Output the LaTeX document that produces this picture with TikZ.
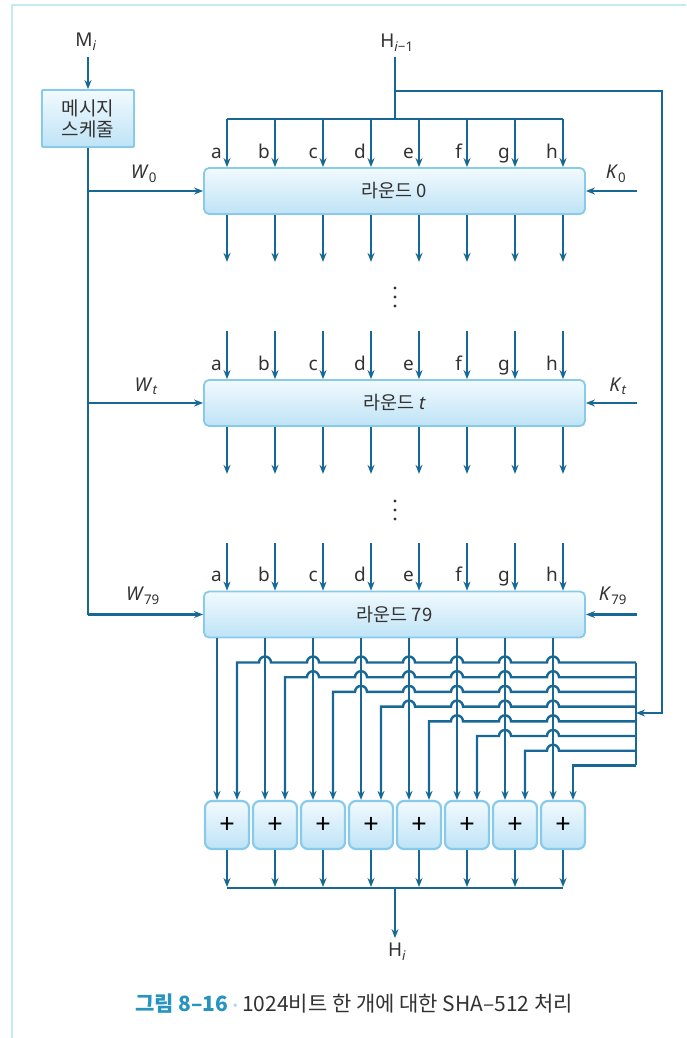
\documentclass[tikz,border=0pt]{standalone}
\usepackage{fontspec}
\setmainfont{Noto Sans}
\newfontfamily\kr{Noto Sans CJK KR}
\usepackage{tikz}
\usetikzlibrary{arrows.meta,positioning,calc}

\definecolor{wire}{RGB}{24,104,150}
\definecolor{boxline}{RGB}{135,202,234}
\definecolor{boxtop}{RGB}{242,250,254}
\definecolor{boxbot}{RGB}{190,227,246}
\definecolor{framec}{RGB}{196,234,242}
\definecolor{captc}{RGB}{38,148,190}
\definecolor{dotc}{RGB}{170,215,232}
\definecolor{txt}{RGB}{50,50,50}

\newcommand\fs[1]{\fontsize{#1}{#1}\selectfont}

\begin{document}
\begin{tikzpicture}[
  x=1pt,y=-1pt,
  >={Stealth[length=9pt,width=7pt]},
  wire/.style={draw=wire,line width=2.4pt},
  arr/.style={wire,->},
  lbl/.style={font=\fs{19},text=txt,inner sep=1pt},
  letter/.style={font=\fs{19},text=txt,inner sep=0pt,anchor=base east},
  roundbox/.style={draw=boxline,line width=1.8pt,rounded corners=5pt,top color=boxtop,bottom color=boxbot,
    minimum width=381pt,minimum height=46pt,text=txt,font=\kr\fs{18.5}},
  sched/.style={draw=boxline,line width=1.8pt,rounded corners=1pt,top color=boxtop,bottom color=boxbot,
    minimum width=92pt,minimum height=57pt,align=center,text=txt,font=\kr\fs{19}},
  adder/.style={draw=boxline,line width=2.2pt,rounded corners=7pt,top color=boxtop,bottom color=boxbot,
    minimum width=44pt,minimum height=48pt,inner sep=0pt,font=\bfseries\fs{27}},
]
\useasboundingbox (0,0) rectangle (686,1038);
\draw[framec,line width=2pt] (12,1038) -- (12,5) -- (686,5);

% message schedule
\node[lbl] (mi) at (86,42) {M\textsubscript{\itshape i}};
\node[sched] (ms) at (88,118.5) {메시지\\[2pt]스케줄};
\draw[arr] (ms.north |- mi.south) ++(0,5) -- (ms.north);

% rounds
\node[roundbox] (r0) at (394.5,191) {라운드 0};
\node[roundbox] (rt) at (394.5,403) {라운드 {\rmfamily\itshape t}};
\node[roundbox] (r79) at (394.5,614.5) {라운드 79};

% chaining value in
\node[lbl] (hp) at (397,43) {H\textsubscript{\itshape i\upshape −1}};
\coordinate (bus) at (395,119);
\coordinate (br) at (395,91);
\coordinate (rbus) at (636,713);
\draw[wire,shorten <=4pt] (hp.south -| bus) -- (bus);
\draw[wire] (227,119) -- (563,119);
\draw[arr] (br) -- (662,91) -- (662,713) -- (rbus);

% a..h inputs
\foreach \r/\ys in {r0/119,rt/331,r79/543} {
  \foreach \k/\c in {0/a,1/b,2/c,3/d,4/e,5/f,6/g,7/h} {
    \pgfmathsetmacro\xx{227+48*\k}
    \draw[arr] (\xx,\ys) -- (\xx,0 |- \r.north);
    \node[letter] (\r\c) at ($(\xx,0 |- \r.north)+(-5,-9)$) {\c};
  }
}
\foreach \r in {r0,rt} {
  \foreach \k in {0,...,7} {
    \pgfmathsetmacro\xx{227+48*\k}
    \draw[arr] (\xx,0 |- \r.south) -- ++(0,47);
  }
}
% dots between rounds
\foreach \yy in {297,510} {
  \foreach \d in {-9,0,9} \fill[txt] (395,\yy+\d) circle (1.7pt);
}

% W and K
\draw[wire] (ms.south) -- (ms.south |- r79.west);
\foreach \r in {r0,rt,r79} {
  \draw[arr] (ms.south |- \r.west) -- (\r.west);
  \draw[arr] ($(\r.east)+(51,0)$) -- (\r.east);
}
\node[lbl] (w0) at (144,174) {\textit{W}\textsubscript{0}};
\node[lbl] (wt) at (146,386) {\textit{W}\textsubscript{\itshape t}};
\node[lbl] (w79) at (143,596) {\textit{W}\textsubscript{79}};
\node[lbl] (k0) at (616,174) {\textit{K}\textsubscript{0}};
\node[lbl] (kt) at (618,386) {\textit{K}\textsubscript{\itshape t}};
\node[lbl] (k79) at (613,596) {\textit{K}\textsubscript{79}};

% adders
\foreach \k in {0,...,7} {
  \node[adder] (ad\k) at (227+48*\k,825) {+};
  \pgfmathsetmacro\xx{217+48*\k}
  \draw[arr] (\xx,0 |- r79.south) -- (\xx,0 |- ad\k.north);
}
\draw[wire] (636,662.5) -- (636,765.4);
\foreach \i in {0,...,7} {
  \pgfmathsetmacro\yy{662.5+14.7*\i}
  \pgfmathsetmacro\sx{237+48*\i}
  \pgfmathtruncatemacro\nx{\i+1}
  \ifnum\i<7
    \draw[wire,<-] (\sx,0 |- ad\i.north) -- (\sx,\yy)
      \foreach \j in {\nx,...,7} { -- ({217+48*\j-6},\yy) arc[start angle=180,end angle=0,radius=6pt] }
      -- (636,\yy);
  \else
    \draw[wire,<-] (\sx,0 |- ad\i.north) -- (\sx,\yy) -- (636,\yy);
  \fi
}

% output
\coordinate (hb) at (395,888);
\node[lbl] (hi) at (397,952) {H\textsubscript{\itshape i}};
\foreach \k in {0,...,7} {
  \draw[arr] (ad\k.south) -- (ad\k.south |- 0,887);
}
\draw[wire] (ad0.south |- hb) -- (ad7.south |- hb);
\draw[arr,shorten >=4pt] (hb) -- (hi.north -| hb);

\node[font=\kr\fs{21},text=txt] (cap) at (354,1004)
  {\textcolor{captc}{\bfseries 그림 8–16}\ \textcolor{dotc}{\raisebox{0.25ex}{\fs{13}•}}\ 1024비트 한 개에 대한 SHA–512 처리};
\end{tikzpicture}
\end{document}
